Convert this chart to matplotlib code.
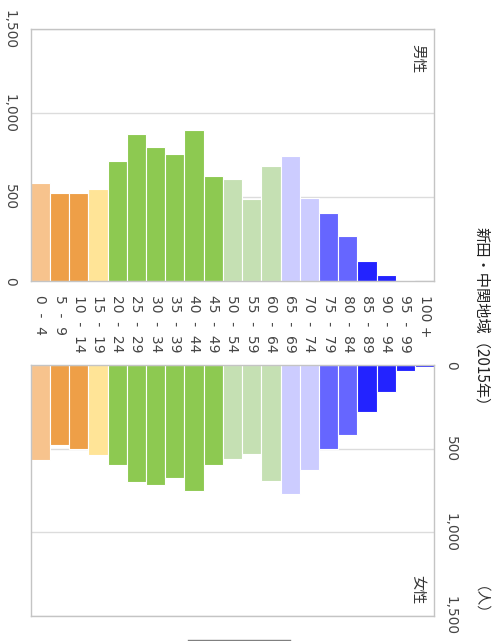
import matplotlib
matplotlib.use('Agg')
import matplotlib.pyplot as plt
from matplotlib.lines import Line2D

plt.rcParams['font.family'] = ['Noto Sans CJK JP', 'DejaVu Sans']

# data
ages = ['0  -  4', '5  -  9', '10  -  14', '15  -  19', '20  -  24', '25  -  29', '30  -  34',
        '35  -  39', '40  -  44', '45  -  49', '50  -  54', '55  -  59', '60  -  64', '65  -  69',
        '70  -  74', '75  -  79', '80  -  84', '85  -  89', '90  -  94', '95  -  99', '100 +']
male = [584, 526, 526, 550, 716, 878, 800, 756, 902, 624, 610, 490, 684, 742,
        496, 408, 268, 120, 34, 8, 1]
female = [568, 478, 500, 538, 598, 700, 716, 676, 750, 598, 564, 534, 696, 768,
          628, 504, 417, 281, 160, 38, 10]
colors = ['#F7C38D', '#EE9F47', '#EE9F47', '#FFE497', '#8DC951', '#8DC951',
          '#8DC951', '#8DC951', '#8DC951', '#8DC951', '#C5E0B3', '#C5E0B3',
          '#C5E0B3', '#CCCCFF', '#CCCCFF', '#6666FF', '#6666FF', '#2323FF',
          '#2323FF', '#2323FF', '#2323FF']
ticks = [0, 500, 1000, 1500]
tick_labels = ['0', '500', '1,000', '1,500']

W, H = 493, 641
fig = plt.figure(figsize=(W / 100, H / 100), dpi=100)


def fx(x):
    return x / W


def fy(y):
    return 1 - y / H


ax_m = fig.add_axes([fx(30.7), fy(281), fx(434.3) - fx(30.7), fy(29.3) - fy(281)])
ax_f = fig.add_axes([fx(30.7), fy(616), fx(434.3) - fx(30.7), fy(365) - fy(616)])

pos = list(range(len(ages)))
for ax, vals in [(ax_m, male), (ax_f, female)]:
    ax.bar(pos, vals, width=1.0, color=colors, edgecolor='white', linewidth=0.8, zorder=2)
    ax.set_xlim(-0.5, len(ages) - 0.5)
    ax.set_yticks(ticks)
    ax.grid(axis='y', color='#dcdcdc', linewidth=1, zorder=0)
    for s in ax.spines.values():
        s.set_color('#c4c4c4')
        s.set_linewidth(1)
    ax.tick_params(length=0)

# male panel
ax_m.set_ylim(0, 1500)
ax_m.set_xticks(pos)
ax_m.set_xticklabels(ages, rotation=-90, ha='center', va='top', fontsize=10,
                     family='DejaVu Sans', color='#444444')
ax_m.tick_params(axis='x', pad=10)
ax_m.set_yticklabels(tick_labels, rotation=-90, va='center', ha='right', fontsize=9.8,
                     family='DejaVu Sans', color='#444444')
ax_m.tick_params(axis='y', pad=10)

# female panel
ax_f.set_ylim(1500, 0)
ax_f.set_xticks([])
ax_f.yaxis.tick_right()
ax_f.set_yticklabels(tick_labels, rotation=-90, va='center', ha='left', fontsize=9.8,
                     family='DejaVu Sans', color='#444444')
ax_f.tick_params(axis='y', pad=7)

fig.text(fx(417), fy(59), '男性', rotation=-90, ha='center', va='center', fontsize=10.5, color='#333333')
fig.text(fx(417), fy(590), '女性', rotation=-90, ha='center', va='center', fontsize=10.5, color='#333333')
fig.text(fx(482), fy(320), '新田・中関地域（2015年）', rotation=-90, ha='center', va='center',
         fontsize=11, color='#222222')
fig.text(fx(472), fy(608), '（人）', rotation=-90, ha='center', va='center', fontsize=10.5, color='#333333')

fig.add_artist(Line2D([fx(188), fx(290)], [fy(640), fy(640)], color='#808080', linewidth=1))

fig.savefig('out.png', dpi=100)
